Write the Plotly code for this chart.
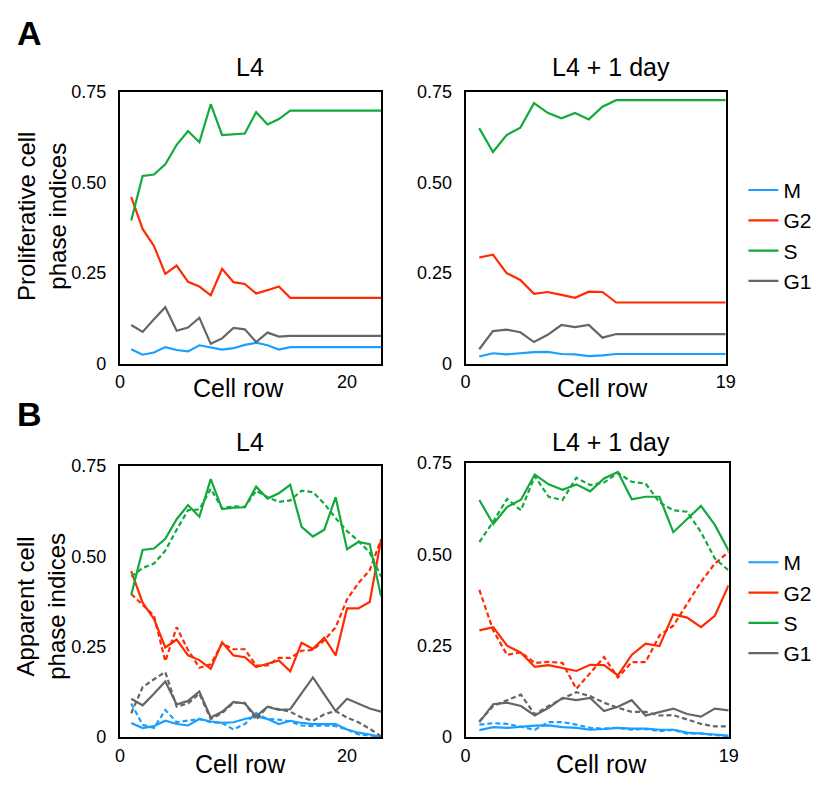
import plotly.graph_objects as go

W, H = 830, 787
FONT = "Liberation Sans, Arial, sans-serif"

phases = ["M", "G2", "S", "G1"]
colors = {"M": "#1a9fff", "G2": "#ff2a00", "S": "#12aa3c", "G1": "#666666"}

rows_l4 = list(range(1, 24))
rows_l4d = list(range(1, 20))

# Panel A: proliferative cell phase indices
A_l4 = {
    "M":  [0.040, 0.025, 0.031, 0.046, 0.038, 0.034, 0.051, 0.046, 0.039, 0.043, 0.052, 0.058, 0.051, 0.039, 0.046,
           0.046, 0.046, 0.046, 0.046, 0.046, 0.046, 0.046, 0.046],
    "G2": [0.460, 0.372, 0.325, 0.248, 0.271, 0.226, 0.213, 0.189, 0.262, 0.225, 0.220, 0.194, 0.203, 0.213, 0.182,
           0.182, 0.182, 0.182, 0.182, 0.182, 0.182, 0.182, 0.182],
    "S":  [0.395, 0.518, 0.522, 0.550, 0.604, 0.642, 0.611, 0.716, 0.631, 0.633, 0.635, 0.694, 0.660, 0.675, 0.698,
           0.698, 0.698, 0.698, 0.698, 0.698, 0.698, 0.698, 0.698],
    "G1": [0.107, 0.088, 0.123, 0.156, 0.091, 0.100, 0.127, 0.055, 0.070, 0.099, 0.095, 0.060, 0.086, 0.075, 0.077,
           0.077, 0.077, 0.077, 0.077, 0.077, 0.077, 0.077, 0.077],
}
A_l4d = {
    "M":  [0.020, 0.029, 0.026, 0.030, 0.032, 0.033, 0.027, 0.026, 0.021, 0.023, 0.027,
           0.027, 0.027, 0.027, 0.027, 0.027, 0.027, 0.027, 0.027],
    "G2": [0.293, 0.301, 0.250, 0.231, 0.193, 0.198, 0.190, 0.182, 0.199, 0.198, 0.169,
           0.169, 0.169, 0.169, 0.169, 0.169, 0.169, 0.169, 0.169],
    "S":  [0.650, 0.584, 0.631, 0.651, 0.719, 0.692, 0.677, 0.692, 0.674, 0.709, 0.727,
           0.727, 0.727, 0.727, 0.727, 0.727, 0.727, 0.727, 0.727],
    "G1": [0.040, 0.090, 0.094, 0.087, 0.060, 0.080, 0.107, 0.101, 0.107, 0.072, 0.082,
           0.082, 0.082, 0.082, 0.082, 0.082, 0.082, 0.082, 0.082],
}

# Panel B: apparent cell phase indices (solid = measured, dashed = model)
B_l4_solid = {
    "M":  [0.039, 0.025, 0.030, 0.045, 0.036, 0.032, 0.050, 0.043, 0.039, 0.041, 0.050, 0.057, 0.050, 0.036, 0.045,
           0.039, 0.036, 0.036, 0.036, 0.021, 0.012, 0.007, 0.000],
    "G2": [0.459, 0.372, 0.327, 0.248, 0.270, 0.226, 0.213, 0.189, 0.262, 0.226, 0.221, 0.194, 0.203, 0.212, 0.182,
           0.261, 0.244, 0.275, 0.226, 0.356, 0.356, 0.374, 0.547],
    "S":  [0.394, 0.518, 0.522, 0.549, 0.603, 0.642, 0.610, 0.714, 0.631, 0.635, 0.636, 0.693, 0.660, 0.675, 0.698,
           0.582, 0.555, 0.574, 0.664, 0.520, 0.540, 0.534, 0.390],
    "G1": [0.106, 0.088, 0.120, 0.154, 0.090, 0.100, 0.126, 0.054, 0.070, 0.097, 0.093, 0.057, 0.084, 0.075, 0.077,
           0.120, 0.165, 0.118, 0.072, 0.106, 0.093, 0.079, 0.070],
}
B_l4_dashed = {
    "M":  [0.093, 0.034, 0.025, 0.075, 0.041, 0.045, 0.050, 0.041, 0.039, 0.021, 0.036, 0.066, 0.050, 0.048, 0.043,
           0.032, 0.030, 0.032, 0.030, 0.021, 0.007, 0.005, 0.000],
    "G2": [0.396, 0.367, 0.336, 0.210, 0.304, 0.241, 0.192, 0.201, 0.259, 0.243, 0.243, 0.198, 0.198, 0.219, 0.219,
           0.239, 0.241, 0.268, 0.304, 0.381, 0.426, 0.462, 0.547],
    "S":  [0.444, 0.468, 0.480, 0.516, 0.574, 0.628, 0.630, 0.687, 0.633, 0.639, 0.637, 0.682, 0.664, 0.651, 0.655,
           0.682, 0.678, 0.646, 0.606, 0.570, 0.543, 0.511, 0.444],
    "G1": [0.066, 0.138, 0.160, 0.180, 0.084, 0.093, 0.120, 0.050, 0.066, 0.095, 0.095, 0.048, 0.084, 0.077, 0.070,
           0.054, 0.045, 0.063, 0.072, 0.054, 0.041, 0.023, 0.002],
}
B_l4d_solid = {
    "M":  [0.019, 0.027, 0.025, 0.029, 0.031, 0.032, 0.027, 0.025, 0.020, 0.022, 0.025, 0.023, 0.023, 0.020, 0.020,
           0.012, 0.010, 0.007, 0.003],
    "G2": [0.292, 0.301, 0.250, 0.231, 0.192, 0.197, 0.189, 0.181, 0.198, 0.197, 0.169, 0.225, 0.256, 0.249, 0.336,
           0.327, 0.301, 0.332, 0.416],
    "S":  [0.649, 0.583, 0.630, 0.650, 0.719, 0.692, 0.677, 0.692, 0.673, 0.708, 0.726, 0.651, 0.658, 0.658, 0.561,
           0.597, 0.633, 0.581, 0.510],
    "G1": [0.041, 0.090, 0.094, 0.085, 0.059, 0.080, 0.107, 0.101, 0.107, 0.071, 0.083, 0.101, 0.059, 0.069, 0.078,
           0.063, 0.056, 0.078, 0.073],
}
B_l4d_dashed = {
    "M":  [0.034, 0.038, 0.036, 0.029, 0.020, 0.041, 0.041, 0.034, 0.025, 0.023, 0.025, 0.020, 0.022, 0.016, 0.020,
           0.009, 0.010, 0.005, 0.003],
    "G2": [0.403, 0.292, 0.225, 0.232, 0.203, 0.206, 0.203, 0.132, 0.175, 0.219, 0.163, 0.205, 0.205, 0.278, 0.305,
           0.365, 0.425, 0.475, 0.507],
    "S":  [0.534, 0.590, 0.652, 0.621, 0.714, 0.658, 0.649, 0.710, 0.690, 0.697, 0.723, 0.699, 0.694, 0.643, 0.621,
           0.617, 0.561, 0.489, 0.456],
    "G1": [0.043, 0.085, 0.101, 0.116, 0.062, 0.085, 0.105, 0.123, 0.112, 0.094, 0.080, 0.069, 0.069, 0.059, 0.060,
           0.047, 0.036, 0.029, 0.029],
}

y_tickvals = [0, 0.25, 0.5, 0.75]
y_ticktext = ["0", "0.25", "0.50", "0.75"]
titles = ["L4", "L4 + 1 day"]


def px_x(p):
    return p / W


def px_y(p):
    return 1 - p / H


fig = go.Figure()

# panel frames in pixels: left, right, top, bottom
boxes = {
    1: (117, 383, 84, 363),   # A L4
    2: (469, 734, 84, 363),   # A L4+1
    3: (117, 383, 468, 746),  # B L4
    4: (469, 737, 465, 746),  # B L4+1
}
xmax = {1: 23, 2: 19, 3: 23, 4: 19}
xtick = {1: [0, 20], 2: [0, 19], 3: [0, 20], 4: [0, 19]}

layout_axes = {}
for i, (x0, x1, y0, y1) in boxes.items():
    sx = "" if i == 1 else str(i)
    layout_axes["xaxis" + sx] = dict(
        domain=[px_x(x0), px_x(x1)], range=[0, xmax[i]], anchor="y" + sx,
        showline=True, mirror=True, linecolor="black", linewidth=2,
        showgrid=False, zeroline=False, ticks="", tickvals=xtick[i],
        tickfont=dict(size=18, color="black", family=FONT), ticklabelstandoff=1,
    )
    layout_axes["yaxis" + sx] = dict(
        domain=[px_y(y1), px_y(y0)], range=[0, 0.75], anchor="x" + sx,
        showline=True, mirror=True, linecolor="black", linewidth=2,
        showgrid=False, zeroline=False, ticks="", tickvals=y_tickvals, ticktext=y_ticktext,
        tickfont=dict(size=18, color="black", family=FONT), ticklabelstandoff=8,
    )


def add(xs, ys, axis, ph, dash=None, legend=None):
    sx = "" if axis == 1 else str(axis)
    fig.add_trace(go.Scatter(
        x=xs, y=ys, mode="lines", name=ph,
        line=dict(color=colors[ph], width=2.2, dash=dash if dash else "solid"),
        xaxis="x" + sx, yaxis="y" + sx,
        showlegend=legend is not None, legend=legend if legend else "legend",
        legendgroup=ph + (legend or ""),
    ))


for ph in phases:
    add(rows_l4, A_l4[ph], 1, ph, legend="legend")
    add(rows_l4d, A_l4d[ph], 2, ph)
for ph in phases:
    add(rows_l4, B_l4_dashed[ph], 3, ph, dash="5px,3px")
    add(rows_l4, B_l4_solid[ph], 3, ph, legend="legend2")
    add(rows_l4d, B_l4d_dashed[ph], 4, ph, dash="5px,3px")
    add(rows_l4d, B_l4d_solid[ph], 4, ph)

ann = []
# panel letters
ann.append(dict(text="<b>A</b>", x=px_x(25), y=px_y(24), font=dict(size=34)))
ann.append(dict(text="<b>B</b>", x=px_x(25), y=px_y(415), font=dict(size=34)))
# titles
for cx, cy, t in [(249, 58, titles[0]), (617, 58, titles[1]), (249, 443, titles[0]), (617, 443, titles[1])]:
    ann.append(dict(text=t, x=px_x(cx), y=px_y(cy), font=dict(size=25)))
# x-axis titles
for cx, cy in [(238, 388), (609, 388), (240, 774), (607, 774)]:
    ann.append(dict(text="Cell row", x=px_x(cx), y=px_y(cy), font=dict(size=25)))
# y-axis titles
ann.append(dict(text="Proliferative cell<br>phase indices", x=px_x(37), y=px_y(212),
                textangle=-90, font=dict(size=24)))
ann.append(dict(text="Apparent cell<br>phase indices", x=px_x(37), y=px_y(612),
                textangle=-90, font=dict(size=24)))
for a in ann:
    a.update(xref="paper", yref="paper", showarrow=False, xanchor="center", yanchor="middle")
    a["font"].update(family=FONT, color="black")

leg = dict(font=dict(size=21, family=FONT, color="black"), bgcolor="rgba(0,0,0,0)",
           borderwidth=0, itemwidth=30, xanchor="left", yanchor="top", tracegroupgap=0)

fig.update_layout(
    width=W, height=H, autosize=False,
    margin=dict(l=0, r=0, t=0, b=0),
    paper_bgcolor="white", plot_bgcolor="white",
    font=dict(family=FONT, color="black"),
    annotations=ann,
    legend=dict(leg, x=px_x(752), y=px_y(164)),
    legend2=dict(leg, x=px_x(752), y=px_y(546)),
    **layout_axes,
)

fig.write_html("out.html", config={"displayModeBar": False},
               post_script="document.body.style.margin='0px';document.body.style.overflow='hidden';")
